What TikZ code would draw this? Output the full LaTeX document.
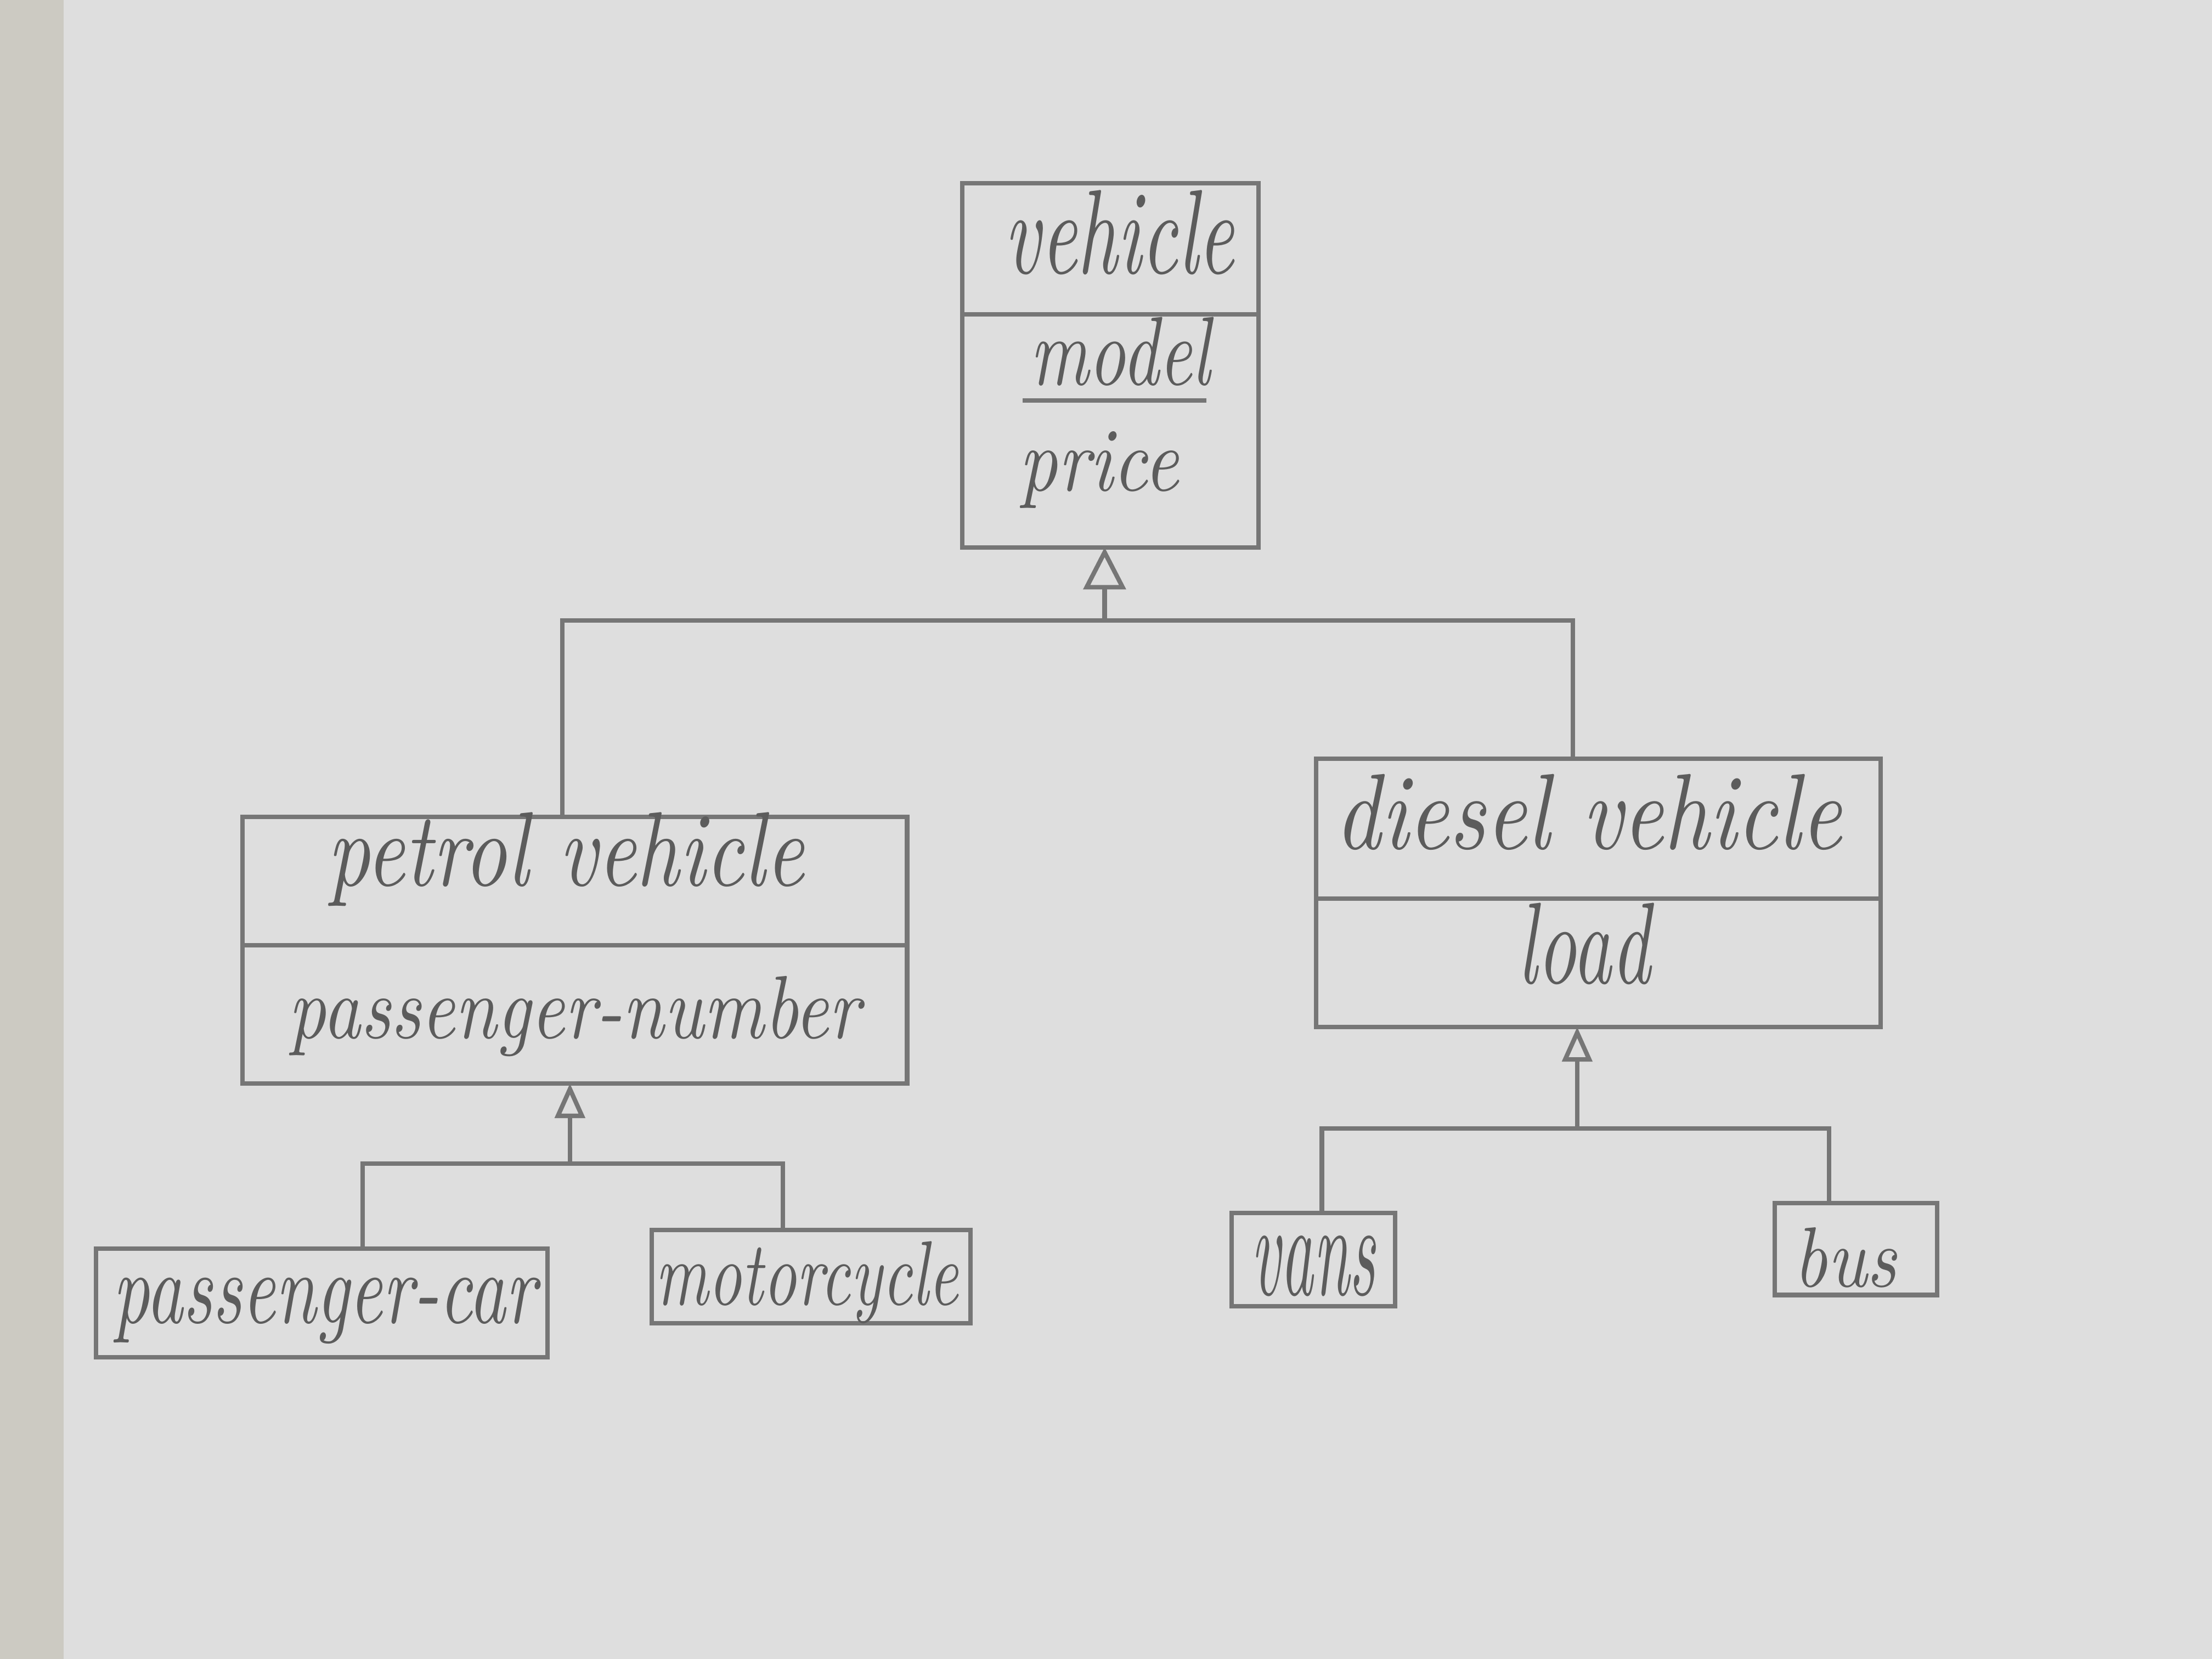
\documentclass[tikz,border=0pt]{standalone}
\usepackage{graphicx}
\usetikzlibrary{arrows.meta}
\definecolor{paper}{RGB}{222,222,222}
\definecolor{edgestrip}{RGB}{204,202,194}
\definecolor{pencil}{RGB}{118,118,118}
\definecolor{ink}{RGB}{92,92,92}
\newcommand{\hw}[3]{\resizebox{#1cm}{#2cm}{\itshape #3}}
\begin{document}
\begin{tikzpicture}[
  box/.style={draw=pencil, line width=0.9pt, rectangle, inner sep=0pt, outer sep=0pt},
  txt/.style={inner sep=0pt, outer sep=0pt, text=ink, anchor=base},
  link/.style={draw=pencil, line width=0.9pt},
  inhbig/.style={link, -{Triangle[open, width=8.5pt, length=8.5pt]}},
  inhsmall/.style={link, -{Triangle[open, width=6pt, length=7pt]}},
]
% paper
\fill[paper] (0,0) rectangle (15.68,11.76);
\fill[edgestrip] (0,0) rectangle (0.45,11.76);
\useasboundingbox (0,0) rectangle (15.68,11.76);

% vehicle class
\node[box, minimum width=2.10cm, minimum height=0.93cm] (vehT) at (7.87,9.995) {};
\node[box, minimum width=2.10cm, minimum height=1.65cm] (vehA) at (7.87,8.705) {};
\node[txt] (vehName) at (7.935,9.82) {\hw{1.63}{0.59}{vehicle}};
\node[txt] (vehModel) at (7.94,9.03) {\hw{1.28}{0.48}{model}};
\node[txt] (vehPrice) at (7.79,8.28) {\hw{1.13}{0.42}{price}};
\draw[link] ([xshift=-0.05cm,yshift=-0.11cm]vehModel.base west) -- ([xshift=-0.03cm,yshift=-0.11cm]vehModel.base east);

% petrol vehicle class
\node[box, minimum width=4.71cm, minimum height=0.91cm] (petT) at (4.075,5.515) {};
\node[box, minimum width=4.71cm, minimum height=0.98cm] (petA) at (4.075,4.57) {};
\node[txt] (petName) at (4.01,5.48) {\hw{3.38}{0.52}{petrol vehicle}};
\node[txt] (petAttr) at (4.07,4.40) {\hw{4.05}{0.44}{passenger-number}};

% diesel vehicle class
\node[box, minimum width=4.00cm, minimum height=0.99cm] (dieT) at (11.33,5.885) {};
\node[box, minimum width=4.00cm, minimum height=0.91cm] (dieA) at (11.33,4.935) {};
\node[txt] (dieName) at (11.26,5.74) {\hw{3.59}{0.53}{diesel vehicle}};
\node[txt] (dieAttr) at (11.23,4.79) {\hw{0.94}{0.57}{load}};

% leaf classes
\node[box, minimum width=3.20cm, minimum height=0.77cm] (pcar) at (2.28,2.525) {};
\node[txt] (pcarName) at (2.30,2.38) {\hw{3.00}{0.32}{passenger-car}};
\node[box, minimum width=2.26cm, minimum height=0.66cm] (moto) at (5.75,2.71) {};
\node[txt] (motoName) at (5.72,2.51) {\hw{2.15}{0.45}{motorcycle}};
\node[box, minimum width=1.16cm, minimum height=0.66cm] (vans) at (9.31,2.83) {};
\node[txt] (vansName) at (9.31,2.58) {\hw{0.88}{0.42}{vans}};
\node[box, minimum width=1.15cm, minimum height=0.65cm] (bus) at (13.155,2.905) {};
\node[txt] (busName) at (13.08,2.64) {\hw{0.73}{0.42}{bus}};

% junctions
\coordinate (j1) at (7.83,7.36);
\coordinate (j2) at (4.04,3.51);
\coordinate (j3) at (11.18,3.76);

% generalisation: vehicle
\draw[link] ([xshift=-0.09cm]petT.north) |- (j1);
\draw[link] ([xshift=-0.18cm]dieT.north) |- (j1);
\draw[inhbig] (j1) -- (j1 |- vehA.south);

% generalisation: petrol vehicle
\draw[link] ([xshift=0.29cm]pcar.north) |- (j2);
\draw[link] ([xshift=-0.20cm]moto.north) |- (j2);
\draw[inhsmall] (j2) -- (j2 |- petA.south);

% generalisation: diesel vehicle
\draw[link] ([xshift=0.06cm]vans.north) |- (j3);
\draw[link] ([xshift=-0.19cm]bus.north) |- (j3);
\draw[inhsmall] (j3) -- (j3 |- dieA.south);
\end{tikzpicture}
\end{document}
